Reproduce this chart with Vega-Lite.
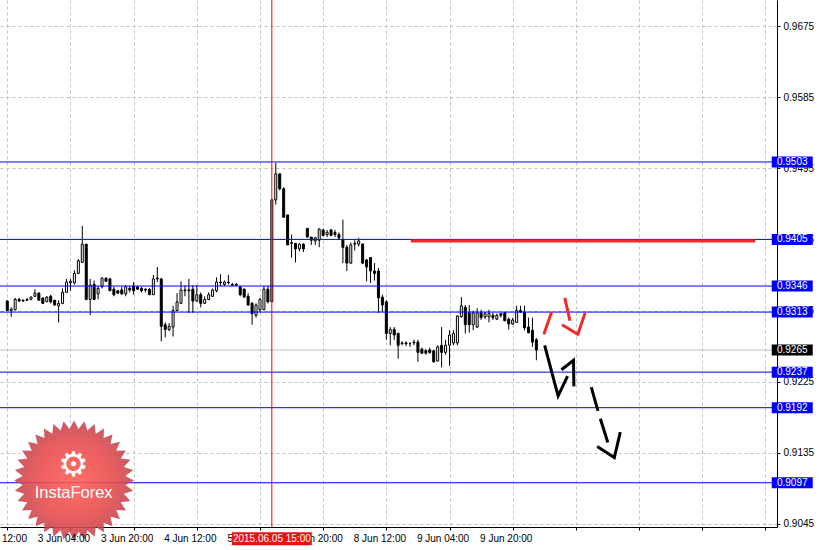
{
"$schema": "https://vega.github.io/schema/vega-lite/v6.json",
"width": 777, "height": 527,
"autosize": {"type": "none"},
"padding": {"left": 0, "top": 0, "right": 42, "bottom": 23},
"background": "white",
"config": {"view": {"stroke": null}, "font": "Liberation Sans"},
"datasets": {
"candles": [
{"i":0,"o":0.9327,"h":0.9328,"l":0.9315,"c":0.9315},
{"i":1,"o":0.9315,"h":0.9319,"l":0.9307,"c":0.9317},
{"i":2,"o":0.9316,"h":0.9331,"l":0.9315,"c":0.9329},
{"i":3,"o":0.9329,"h":0.9331,"l":0.9326,"c":0.9327},
{"i":4,"o":0.9328,"h":0.9329,"l":0.9326,"c":0.9327},
{"i":5,"o":0.9328,"h":0.9331,"l":0.9327,"c":0.9329},
{"i":6,"o":0.9329,"h":0.9333,"l":0.9328,"c":0.9332},
{"i":7,"o":0.9333,"h":0.9342,"l":0.9332,"c":0.9337},
{"i":8,"o":0.9337,"h":0.9338,"l":0.9328,"c":0.9328},
{"i":9,"o":0.9331,"h":0.9331,"l":0.9324,"c":0.9324},
{"i":10,"o":0.9326,"h":0.9333,"l":0.9326,"c":0.9332},
{"i":11,"o":0.9333,"h":0.9335,"l":0.9324,"c":0.9326},
{"i":12,"o":0.9328,"h":0.9328,"l":0.9321,"c":0.9322},
{"i":13,"o":0.9321,"h":0.9328,"l":0.9300,"c":0.9324},
{"i":14,"o":0.9324,"h":0.9343,"l":0.9323,"c":0.9338},
{"i":15,"o":0.9338,"h":0.9355,"l":0.9338,"c":0.9351},
{"i":16,"o":0.9350,"h":0.9355,"l":0.9340,"c":0.9352},
{"i":17,"o":0.9350,"h":0.9366,"l":0.9348,"c":0.9362},
{"i":18,"o":0.9362,"h":0.9380,"l":0.9361,"c":0.9378},
{"i":19,"o":0.9376,"h":0.9422,"l":0.9375,"c":0.9399},
{"i":20,"o":0.9399,"h":0.9399,"l":0.9328,"c":0.9329},
{"i":21,"o":0.9329,"h":0.9355,"l":0.9309,"c":0.9347},
{"i":22,"o":0.9348,"h":0.9353,"l":0.9328,"c":0.9329},
{"i":23,"o":0.9336,"h":0.9346,"l":0.9329,"c":0.9343},
{"i":24,"o":0.9345,"h":0.9357,"l":0.9343,"c":0.9356},
{"i":25,"o":0.9356,"h":0.9357,"l":0.9352,"c":0.9352},
{"i":26,"o":0.9355,"h":0.9356,"l":0.9340,"c":0.9340},
{"i":27,"o":0.9342,"h":0.9345,"l":0.9333,"c":0.9335},
{"i":28,"o":0.9340,"h":0.9341,"l":0.9336,"c":0.9337},
{"i":29,"o":0.9341,"h":0.9345,"l":0.9335,"c":0.9336},
{"i":30,"o":0.9336,"h":0.9347,"l":0.9333,"c":0.9345},
{"i":31,"o":0.9343,"h":0.9346,"l":0.9338,"c":0.9341},
{"i":32,"o":0.9346,"h":0.9351,"l":0.9335,"c":0.9340},
{"i":33,"o":0.9345,"h":0.9345,"l":0.9341,"c":0.9342},
{"i":34,"o":0.9343,"h":0.9345,"l":0.9338,"c":0.9340},
{"i":35,"o":0.9342,"h":0.9343,"l":0.9338,"c":0.9341},
{"i":36,"o":0.9342,"h":0.9343,"l":0.9335,"c":0.9335},
{"i":37,"o":0.9335,"h":0.9360,"l":0.9335,"c":0.9355},
{"i":38,"o":0.9356,"h":0.9370,"l":0.9351,"c":0.9355},
{"i":39,"o":0.9355,"h":0.9356,"l":0.9276,"c":0.9295},
{"i":40,"o":0.9297,"h":0.9300,"l":0.9281,"c":0.9291},
{"i":41,"o":0.9291,"h":0.9299,"l":0.9289,"c":0.9295},
{"i":42,"o":0.9294,"h":0.9321,"l":0.9282,"c":0.9315},
{"i":43,"o":0.9315,"h":0.9337,"l":0.9315,"c":0.9326},
{"i":44,"o":0.9324,"h":0.9352,"l":0.9324,"c":0.9341},
{"i":45,"o":0.9341,"h":0.9347,"l":0.9333,"c":0.9340},
{"i":46,"o":0.9341,"h":0.9355,"l":0.9312,"c":0.9340},
{"i":47,"o":0.9342,"h":0.9347,"l":0.9312,"c":0.9327},
{"i":48,"o":0.9327,"h":0.9347,"l":0.9326,"c":0.9335},
{"i":49,"o":0.9335,"h":0.9338,"l":0.9319,"c":0.9324},
{"i":50,"o":0.9324,"h":0.9333,"l":0.9324,"c":0.9329},
{"i":51,"o":0.9329,"h":0.9338,"l":0.9328,"c":0.9335},
{"i":52,"o":0.9333,"h":0.9343,"l":0.9332,"c":0.9341},
{"i":53,"o":0.9340,"h":0.9357,"l":0.9338,"c":0.9351},
{"i":54,"o":0.9351,"h":0.9361,"l":0.9346,"c":0.9350},
{"i":55,"o":0.9348,"h":0.9353,"l":0.9346,"c":0.9351},
{"i":56,"o":0.9351,"h":0.9360,"l":0.9348,"c":0.9350},
{"i":57,"o":0.9348,"h":0.9350,"l":0.9346,"c":0.9347},
{"i":58,"o":0.9348,"h":0.9350,"l":0.9346,"c":0.9347},
{"i":59,"o":0.9345,"h":0.9346,"l":0.9333,"c":0.9335},
{"i":60,"o":0.9342,"h":0.9343,"l":0.9331,"c":0.9332},
{"i":61,"o":0.9333,"h":0.9337,"l":0.9321,"c":0.9322},
{"i":62,"o":0.9324,"h":0.9326,"l":0.9297,"c":0.9311},
{"i":63,"o":0.9309,"h":0.9324,"l":0.9306,"c":0.9322},
{"i":64,"o":0.9316,"h":0.9331,"l":0.9313,"c":0.9329},
{"i":65,"o":0.9316,"h":0.9346,"l":0.9316,"c":0.9342},
{"i":66,"o":0.9342,"h":0.9346,"l":0.9324,"c":0.9326},
{"i":67,"o":0.9326,"h":0.9456,"l":0.9326,"c":0.9455},
{"i":68,"o":0.9455,"h":0.9502,"l":0.9449,"c":0.9488},
{"i":69,"o":0.9488,"h":0.9488,"l":0.9467,"c":0.9469},
{"i":70,"o":0.9469,"h":0.9471,"l":0.9433,"c":0.9433},
{"i":71,"o":0.9436,"h":0.9436,"l":0.9398,"c":0.9398},
{"i":72,"o":0.9400,"h":0.9411,"l":0.9382,"c":0.9401},
{"i":73,"o":0.9400,"h":0.9400,"l":0.9376,"c":0.9393},
{"i":74,"o":0.9393,"h":0.9400,"l":0.9390,"c":0.9399},
{"i":75,"o":0.9399,"h":0.9400,"l":0.9389,"c":0.9393},
{"i":76,"o":0.9419,"h":0.9419,"l":0.9407,"c":0.9408},
{"i":77,"o":0.9408,"h":0.9408,"l":0.9398,"c":0.9404},
{"i":78,"o":0.9403,"h":0.9408,"l":0.9398,"c":0.9407},
{"i":79,"o":0.9404,"h":0.9419,"l":0.9395,"c":0.9418},
{"i":80,"o":0.9417,"h":0.9418,"l":0.9409,"c":0.9410},
{"i":81,"o":0.9411,"h":0.9417,"l":0.9408,"c":0.9414},
{"i":82,"o":0.9417,"h":0.9418,"l":0.9409,"c":0.9410},
{"i":83,"o":0.9414,"h":0.9417,"l":0.9408,"c":0.9411},
{"i":84,"o":0.9411,"h":0.9414,"l":0.9405,"c":0.9407},
{"i":85,"o":0.9405,"h":0.9430,"l":0.9375,"c":0.9395},
{"i":86,"o":0.9395,"h":0.9398,"l":0.9365,"c":0.9375},
{"i":87,"o":0.9375,"h":0.9401,"l":0.9374,"c":0.9398},
{"i":88,"o":0.9400,"h":0.9404,"l":0.9391,"c":0.9399},
{"i":89,"o":0.9399,"h":0.9407,"l":0.9396,"c":0.9403},
{"i":90,"o":0.9399,"h":0.9400,"l":0.9374,"c":0.9375},
{"i":91,"o":0.9379,"h":0.9380,"l":0.9352,"c":0.9370},
{"i":92,"o":0.9382,"h":0.9382,"l":0.9350,"c":0.9365},
{"i":93,"o":0.9365,"h":0.9375,"l":0.9353,"c":0.9362},
{"i":94,"o":0.9365,"h":0.9369,"l":0.9312,"c":0.9331},
{"i":95,"o":0.9332,"h":0.9335,"l":0.9313,"c":0.9322},
{"i":96,"o":0.9326,"h":0.9328,"l":0.9278,"c":0.9286},
{"i":97,"o":0.9286,"h":0.9294,"l":0.9271,"c":0.9291},
{"i":98,"o":0.9291,"h":0.9294,"l":0.9278,"c":0.9284},
{"i":99,"o":0.9286,"h":0.9287,"l":0.9254,"c":0.9271},
{"i":100,"o":0.9273,"h":0.9276,"l":0.9271,"c":0.9274},
{"i":101,"o":0.9274,"h":0.9276,"l":0.9270,"c":0.9273},
{"i":102,"o":0.9273,"h":0.9275,"l":0.9269,"c":0.9273},
{"i":103,"o":0.9274,"h":0.9278,"l":0.9271,"c":0.9275},
{"i":104,"o":0.9275,"h":0.9278,"l":0.9250,"c":0.9262},
{"i":105,"o":0.9266,"h":0.9268,"l":0.9260,"c":0.9261},
{"i":106,"o":0.9264,"h":0.9266,"l":0.9259,"c":0.9261},
{"i":107,"o":0.9265,"h":0.9268,"l":0.9260,"c":0.9262},
{"i":108,"o":0.9264,"h":0.9265,"l":0.9249,"c":0.9250},
{"i":109,"o":0.9251,"h":0.9271,"l":0.9251,"c":0.9269},
{"i":110,"o":0.9271,"h":0.9294,"l":0.9243,"c":0.9262},
{"i":111,"o":0.9262,"h":0.9278,"l":0.9259,"c":0.9271},
{"i":112,"o":0.9271,"h":0.9290,"l":0.9245,"c":0.9284},
{"i":113,"o":0.9274,"h":0.9290,"l":0.9271,"c":0.9286},
{"i":114,"o":0.9274,"h":0.9309,"l":0.9271,"c":0.9308},
{"i":115,"o":0.9307,"h":0.9332,"l":0.9306,"c":0.9321},
{"i":116,"o":0.9319,"h":0.9322,"l":0.9286,"c":0.9297},
{"i":117,"o":0.9312,"h":0.9322,"l":0.9287,"c":0.9297},
{"i":118,"o":0.9297,"h":0.9315,"l":0.9290,"c":0.9312},
{"i":119,"o":0.9294,"h":0.9318,"l":0.9293,"c":0.9312},
{"i":120,"o":0.9312,"h":0.9316,"l":0.9303,"c":0.9306},
{"i":121,"o":0.9307,"h":0.9313,"l":0.9304,"c":0.9311},
{"i":122,"o":0.9307,"h":0.9316,"l":0.9300,"c":0.9311},
{"i":123,"o":0.9309,"h":0.9312,"l":0.9303,"c":0.9306},
{"i":124,"o":0.9304,"h":0.9311,"l":0.9303,"c":0.9309},
{"i":125,"o":0.9311,"h":0.9311,"l":0.9306,"c":0.9309},
{"i":126,"o":0.9312,"h":0.9313,"l":0.9302,"c":0.9302},
{"i":127,"o":0.9304,"h":0.9306,"l":0.9291,"c":0.9298},
{"i":128,"o":0.9298,"h":0.9306,"l":0.9297,"c":0.9303},
{"i":129,"o":0.9300,"h":0.9321,"l":0.9300,"c":0.9315},
{"i":130,"o":0.9315,"h":0.9321,"l":0.9312,"c":0.9313},
{"i":131,"o":0.9313,"h":0.9321,"l":0.9290,"c":0.9293},
{"i":132,"o":0.9294,"h":0.9306,"l":0.9286,"c":0.9287},
{"i":133,"o":0.9290,"h":0.9306,"l":0.9269,"c":0.9275},
{"i":134,"o":0.9278,"h":0.9280,"l":0.9252,"c":0.9265}
],
"levels": [{"p":0.9503},{"p":0.9405},{"p":0.9346},{"p":0.9313},{"p":0.9237},{"p":0.9192},{"p":0.9097}],
"bid": [{"p":0.9265}],
"event": [{"i":67,"t":"2015.06.05 15:00"}],
"target": [{"i1":102.2,"i2":189.4,"p":0.9403}],
"redArrows": [
{"s":"A","k":0,"i":135.9,"p":0.9285},{"s":"A","k":1,"i":137.85,"p":0.9313},
{"s":"B","k":0,"i":141.2,"p":0.9331},{"s":"B","k":1,"i":142.5,"p":0.9302},
{"s":"C","k":0,"i":140.5,"p":0.9297},{"s":"C","k":1,"i":144.5,"p":0.9285},{"s":"C","k":2,"i":146.35,"p":0.9312}],
"blackArrows": [
{"s":"D","k":0,"i":136.1,"p":0.9271},{"s":"D","k":1,"i":139.5,"p":0.9207},{"s":"D","k":2,"i":141.9,"p":0.9232},
{"s":"E","k":0,"i":140.35,"p":0.9240},{"s":"E","k":1,"i":143.4,"p":0.9252},{"s":"E","k":2,"i":143.5,"p":0.9219},
{"s":"F","k":0,"i":147.9,"p":0.9218},{"s":"F","k":1,"i":149.6,"p":0.9188},
{"s":"G","k":0,"i":150.2,"p":0.9178},{"s":"G","k":1,"i":152.1,"p":0.9148},
{"s":"H","k":0,"i":149.4,"p":0.9143},{"s":"H","k":1,"i":153.75,"p":0.9129},{"s":"H","k":2,"i":155.25,"p":0.9161}],
"xlabels": [
{"i":-8,"t":"2 Jun 12:00"},{"i":8,"t":"3 Jun 04:00"},{"i":24,"t":"3 Jun 20:00"},{"i":40,"t":"4 Jun 12:00"},
{"i":56,"t":"5 Jun 04:00"},{"i":72,"t":"5 Jun 20:00"},{"i":88,"t":"8 Jun 12:00"},{"i":104,"t":"9 Jun 04:00"},{"i":120,"t":"9 Jun 20:00"}],
"logo": [{"name":"InstaForex","icon":"⚙"}]
},
"layer": [
{"data": {"name": "bid"}, "mark": {"type": "rule", "color": "#c0c0c0", "strokeWidth": 1},
 "encoding": {
  "y": {"field": "p", "type": "quantitative", "scale": {"domain": [0.9041, 0.9708], "nice": false, "zero": false},
   "axis": {"orient": "right", "values": [0.9045,0.909,0.9135,0.918,0.9225,0.927,0.9315,0.936,0.9405,0.945,0.9495,0.954,0.9585,0.963,0.9675],
    "format": ".4f", "grid": true, "gridColor": "#c0c0c0", "gridDash": [3,3], "tickSize": 3, "tickColor": "black", "labelPadding": 3,
    "labelFont": "Liberation Sans", "labelFontSize": 10, "labelColor": "black", "domainColor": "black", "title": null}}
 }},
{"data": {"name": "candles"}, "mark": {"type": "rule", "color": "black", "strokeWidth": 1},
 "encoding": {
  "x": {"field": "i", "type": "quantitative", "scale": {"domain": [-0.575, 193.675], "nice": false, "zero": false},
   "axis": {"orient": "bottom", "values": [0,8,16,24,32,40,48,56,64,72,80,88,96,104,112,120,128,136,144,152,160,168,176,184,192],
    "grid": true, "gridColor": "#c0c0c0", "gridDash": [3,3], "labels": false, "ticks": true, "tickSize": 3, "tickColor": "black",
    "domain": true, "domainColor": "black", "title": null}},
  "y": {"field": "l", "type": "quantitative"}, "y2": {"field": "h"}}},
{"data": {"name": "candles"}, "mark": {"type": "bar", "size": 2, "stroke": "black", "strokeWidth": 1},
 "encoding": {"x": {"field": "i", "type": "quantitative"}, "y": {"field": "o", "type": "quantitative"}, "y2": {"field": "c"},
  "fill": {"condition": {"test": "datum.c > datum.o", "value": "white"}, "value": "black"}}},
{"data": {"name": "levels"}, "mark": {"type": "rule", "color": "#0000ff", "strokeWidth": 1},
 "encoding": {"y": {"field": "p", "type": "quantitative"}}},
{"data": {"name": "event"}, "mark": {"type": "rule", "color": "#ff0000", "strokeWidth": 1},
 "encoding": {"x": {"field": "i", "type": "quantitative"}}},
{"data": {"name": "target"}, "mark": {"type": "rule", "color": "#ee2a2a", "strokeWidth": 3},
 "encoding": {"x": {"field": "i1", "type": "quantitative"}, "x2": {"field": "i2"}, "y": {"field": "p", "type": "quantitative"}}},
{"data": {"name": "redArrows"}, "mark": {"type": "line", "color": "#ee2a2a", "strokeWidth": 3},
 "encoding": {"x": {"field": "i", "type": "quantitative"}, "y": {"field": "p", "type": "quantitative"}, "detail": {"field": "s"}, "order": {"field": "k"}}},
{"data": {"name": "blackArrows"}, "mark": {"type": "line", "color": "black", "strokeWidth": 3},
 "encoding": {"x": {"field": "i", "type": "quantitative"}, "y": {"field": "p", "type": "quantitative"}, "detail": {"field": "s"}, "order": {"field": "k"}}},
{"data": {"name": "logo"}, "mark": {"type": "point", "filled": true, "opacity": 0.88, "size": 14400, "strokeWidth": 0,
  "shape": "M1,0L0.857,0.075L0.985,0.174L0.831,0.223L0.94,0.342L0.779,0.363L0.866,0.5L0.705,0.493L0.766,0.643L0.608,0.608L0.643,0.766L0.493,0.705L0.5,0.866L0.363,0.779L0.342,0.94L0.223,0.831L0.174,0.985L0.075,0.857L0,1L-0.075,0.857L-0.174,0.985L-0.223,0.831L-0.342,0.94L-0.363,0.779L-0.5,0.866L-0.493,0.705L-0.643,0.766L-0.608,0.608L-0.766,0.643L-0.705,0.493L-0.866,0.5L-0.779,0.363L-0.94,0.342L-0.831,0.223L-0.985,0.174L-0.857,0.075L-1,0L-0.857,-0.075L-0.985,-0.174L-0.831,-0.223L-0.94,-0.342L-0.779,-0.363L-0.866,-0.5L-0.705,-0.493L-0.766,-0.643L-0.608,-0.608L-0.643,-0.766L-0.493,-0.705L-0.5,-0.866L-0.363,-0.779L-0.342,-0.94L-0.223,-0.831L-0.174,-0.985L-0.075,-0.857L0,-1L0.075,-0.857L0.174,-0.985L0.223,-0.831L0.342,-0.94L0.363,-0.779L0.5,-0.866L0.493,-0.705L0.643,-0.766L0.608,-0.608L0.766,-0.643L0.705,-0.493L0.866,-0.5L0.779,-0.363L0.94,-0.342L0.831,-0.223L0.985,-0.174L0.857,-0.075Z",
  "fill": {"gradient": "radial", "stops": [{"offset": 0, "color": "#ff5a55"}, {"offset": 0.6, "color": "#e84a4a"}, {"offset": 1, "color": "#c2434e"}]}},
 "encoding": {"x": {"datum": 16.9, "type": "quantitative"}, "y": {"datum": 0.9100, "type": "quantitative"}}},
{"data": {"name": "logo"}, "mark": {"type": "text", "color": "white", "font": "DejaVu Sans", "fontSize": 34, "align": "center", "baseline": "middle"},
 "encoding": {"x": {"datum": 16.8, "type": "quantitative"}, "y": {"datum": 0.9118, "type": "quantitative"}, "text": {"field": "icon"}}},
{"data": {"name": "logo"}, "mark": {"type": "text", "color": "white", "font": "Liberation Sans", "fontSize": 16.5, "align": "center", "baseline": "middle"},
 "encoding": {"x": {"datum": 16.8, "type": "quantitative"}, "y": {"datum": 0.9084, "type": "quantitative"}, "text": {"field": "name"}}},
{"data": {"name": "xlabels"}, "mark": {"type": "text", "color": "black", "font": "Liberation Sans", "fontSize": 10, "align": "left", "baseline": "middle", "dx": -1},
 "encoding": {"x": {"field": "i", "type": "quantitative"}, "y": {"datum": 0.9026, "type": "quantitative"}, "text": {"field": "t"}}},
{"data": {"name": "levels"}, "mark": {"type": "point", "filled": true, "opacity": 1, "color": "#0000ff", "size": 1681, "strokeWidth": 0,
  "shape": "M-1,-0.268L1,-0.268L1,0.268L-1,0.268Z"},
 "encoding": {"x": {"datum": 198.8, "type": "quantitative"}, "y": {"field": "p", "type": "quantitative"}}},
{"data": {"name": "levels"}, "mark": {"type": "text", "color": "white", "font": "Liberation Sans", "fontSize": 10, "align": "center", "baseline": "middle"},
 "encoding": {"x": {"datum": 198.8, "type": "quantitative"}, "y": {"field": "p", "type": "quantitative"}, "text": {"field": "p", "type": "quantitative", "format": ".4f"}}},
{"data": {"name": "bid"}, "mark": {"type": "point", "filled": true, "opacity": 1, "color": "black", "size": 1681, "strokeWidth": 0,
  "shape": "M-1,-0.268L1,-0.268L1,0.268L-1,0.268Z"},
 "encoding": {"x": {"datum": 198.8, "type": "quantitative"}, "y": {"field": "p", "type": "quantitative"}}},
{"data": {"name": "bid"}, "mark": {"type": "text", "color": "white", "font": "Liberation Sans", "fontSize": 10, "align": "center", "baseline": "middle"},
 "encoding": {"x": {"datum": 198.8, "type": "quantitative"}, "y": {"field": "p", "type": "quantitative"}, "text": {"field": "p", "type": "quantitative", "format": ".4f"}}},
{"data": {"name": "event"}, "mark": {"type": "point", "filled": true, "opacity": 1, "color": "#ee1111", "size": 6400, "strokeWidth": 0,
  "shape": "M-1,-0.1625L1,-0.1625L1,0.1625L-1,0.1625Z"},
 "encoding": {"x": {"field": "i", "type": "quantitative"}, "y": {"datum": 0.9026, "type": "quantitative"}}},
{"data": {"name": "event"}, "mark": {"type": "text", "color": "white", "font": "Liberation Sans", "fontSize": 10, "align": "center", "baseline": "middle"},
 "encoding": {"x": {"field": "i", "type": "quantitative"}, "y": {"datum": 0.9026, "type": "quantitative"}, "text": {"field": "t"}}}
]
}
